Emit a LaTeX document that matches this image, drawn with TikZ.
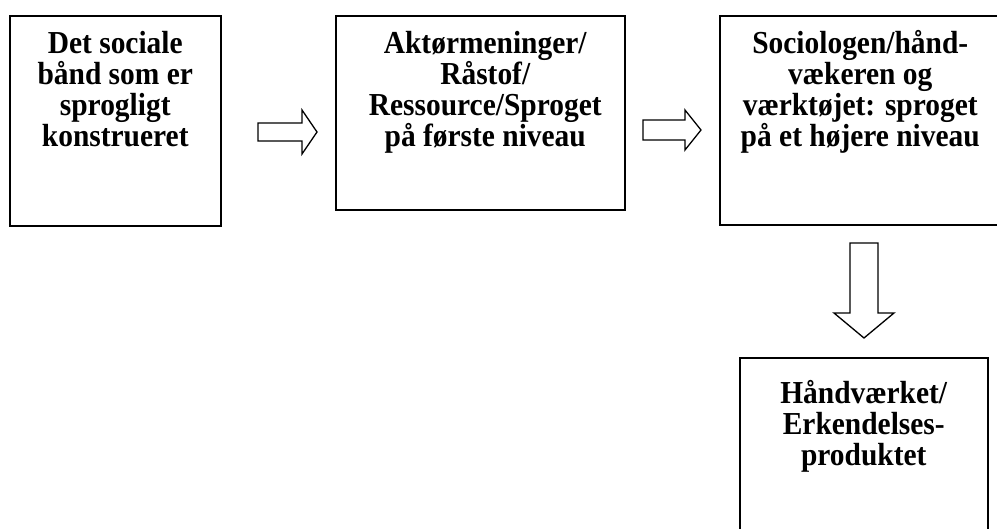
\documentclass[tikz,border=0pt]{standalone}
\usepackage{fontspec}
\setmainfont{Liberation Serif}
\newfontfamily\lblfont{Liberation Serif}[FakeStretch=0.92]
\newcommand{\firstline}{\rule{0pt}{25pt}}
\newcommand{\tightlines}{\setlength{\lineskiplimit}{-100pt}}
\begin{document}
\begin{tikzpicture}[x=1pt,y=-1pt,
  box/.style={draw=black,line width=1.5pt,anchor=north west,inner sep=0pt},
  lbl/.style={anchor=north,align=center,inner sep=0pt,font=\lblfont\bfseries\fontsize{32pt}{31pt}\selectfont\tightlines},
  blockarrow/.style={draw=black,line width=1.3pt,fill=white,line join=miter}]
\useasboundingbox (0,0) rectangle (997,528);
\node[box,minimum width=211pt,minimum height=210pt] (b1) at (9,15) {};
\node[box,minimum width=289pt,minimum height=194pt] (b2) at (335,15) {};
\node[box,minimum width=281pt,minimum height=209pt] (b3) at (719,15) {};
\node[box,minimum width=248pt,minimum height=190pt] (b4) at (739,357) {};
\node[lbl] (t1) at ([xshift=0pt,yshift=-13pt]b1.north) {\firstline Det sociale\\bånd som er\\sprogligt\\konstrueret};
\node[lbl] (t2) at ([xshift=5pt,yshift=-13pt]b2.north) {\firstline Aktørmeninger/\\Råstof/\\Ressource/Sproget\\på første niveau};
\node[lbl] (t3) at ([yshift=-13pt]b3.north) {\firstline Sociologen/hånd-\\vækeren og\\værktøjet: sproget\\på et højere niveau};
\node[lbl] (t4) at ([yshift=-21pt]b4.north) {\firstline Håndværket/\\Erkendelses-\\produktet};
\draw[blockarrow] (258,123) -- (302,123) -- (302,110) -- (317,132) -- (302,154) -- (302,141) -- (258,141) -- cycle;
\draw[blockarrow] (643,120) -- (685,120) -- (685,110) -- (701,130) -- (685,150) -- (685,140) -- (643,140) -- cycle;
\draw[blockarrow] (850,243) -- (878,243) -- (878,313) -- (894,313) -- (864,338) -- (834,313) -- (850,313) -- cycle;
\end{tikzpicture}
\end{document}
